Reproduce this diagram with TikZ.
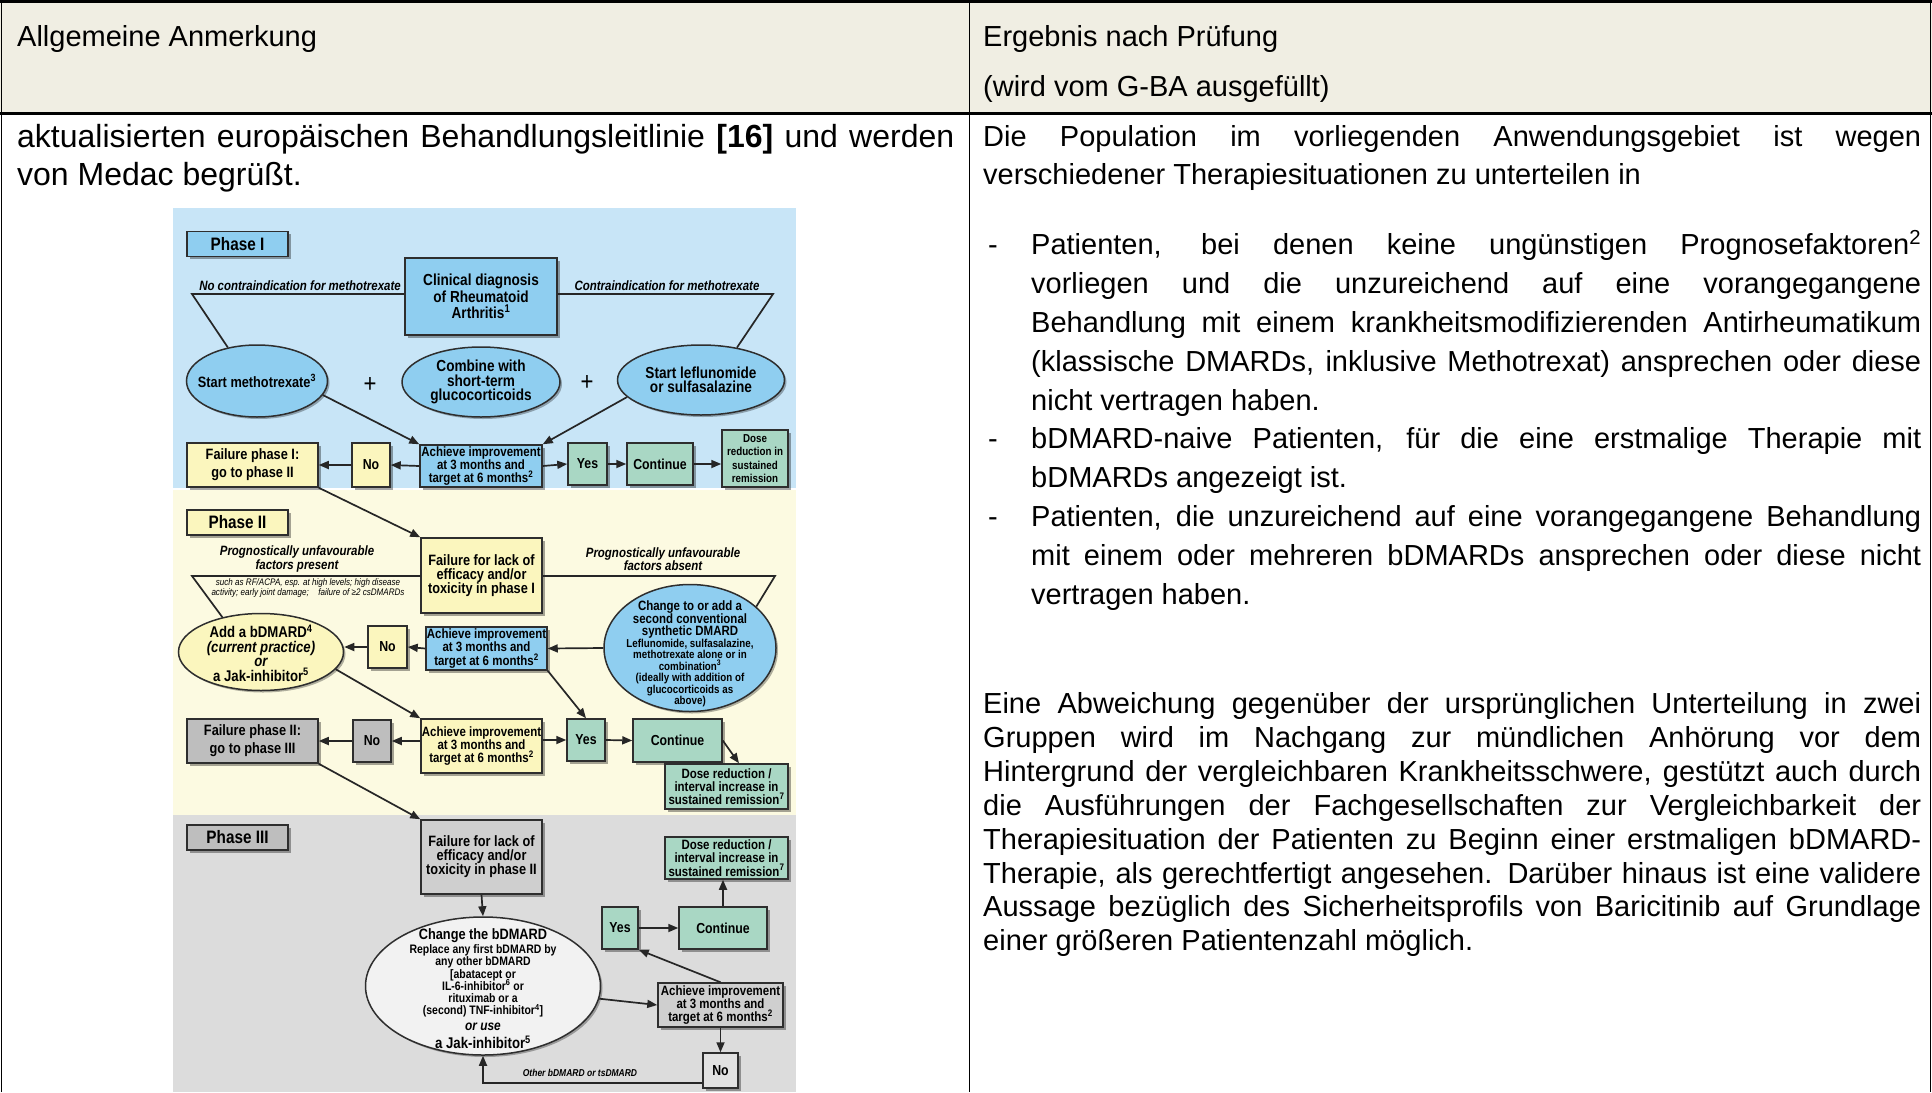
\documentclass[tikz,border=0pt]{standalone}
\usepackage{fontspec}
\setmainfont{Liberation Sans}
\newfontfamily\fcf{Liberation Sans}[FakeStretch=0.85]
\usetikzlibrary{shapes.geometric,arrows.meta,shadows,calc}
\definecolor{hdr}{HTML}{F0EEE3}
\definecolor{bgI}{HTML}{C8E5F7}
\definecolor{bgII}{HTML}{FCFAE1}
\definecolor{bgIII}{HTML}{DCDCDC}
\definecolor{cblue}{HTML}{8FCEF0}
\definecolor{cyel}{HTML}{FBF6BE}
\definecolor{cgrn}{HTML}{A9D7C4}
\definecolor{cgry}{HTML}{BEBEBE}
\definecolor{cgryb}{HTML}{CFCFCF}
\definecolor{cwht}{HTML}{F2F2F2}
\definecolor{cnol}{HTML}{E2E2E2}
\definecolor{edge}{HTML}{2E2E2E}
\newcommand\FS[2]{\fontsize{#1}{#2}\selectfont\lineskiplimit=-50pt\relax}
\newcommand\JL[2]{\makebox[#1][s]{#2}}
\tikzset{
  fb/.style={draw=edge, line width=1.5pt, rectangle, inner sep=0pt, align=center,
    drop shadow={shadow xshift=2.5pt, shadow yshift=-2.5pt, fill=black, opacity=0.35}},
  fe/.style={draw=edge, line width=1.5pt, ellipse, inner sep=0pt,
    drop shadow={shadow xshift=2pt, shadow yshift=-2pt, fill=black, opacity=0.3}},
  ft/.style={inner sep=0pt, align=center},
  arr/.style={line width=1.7pt, draw=black!85, -{Triangle[length=10pt,width=8pt]}},
  lnk/.style={line width=1.7pt, draw=black!85},
  rt/.style={anchor=base west, inner sep=0pt, font=\FS{29}{29}},
  lt/.style={anchor=base west, inner sep=0pt, font=\FS{32}{32}},
  small/.style={font=\fcf\bfseries\FS{14.5}{14.5}},
  ach/.style={font=\fcf\bfseries\FS{13.5}{13.3}},
  ph/.style={font=\fcf\bfseries\FS{18}{18}, minimum width=101pt, minimum height=25pt},
}
\begin{document}
\begin{tikzpicture}[x=1pt,y=-1pt]
\useasboundingbox (0,0) rectangle (1932,1092);
\fill[white] (0,0) rectangle (1932,1092);
\fill[hdr] (0,0) rectangle (1932,113);
% flowchart backgrounds
\fill[bgI] (173,208) rectangle (796,488);
\fill[bgII] (173,490) rectangle (796,815);
\fill[bgIII] (173,815) rectangle (796,1092);
% table rules
\draw[line width=3pt] (0,1.5) -- (1932,1.5);
\draw[line width=3pt] (0,113) -- (1932,113);
\draw[line width=1.5pt] (1.5,0) -- (1.5,1092);
\draw[line width=1.5pt] (969.5,0) -- (969.5,1092);
\draw[line width=1.5pt] (1930.5,0) -- (1930.5,1092);

% header texts
\node[rt] (h1) at (17,46) {Allgemeine Anmerkung};
\node[rt] (h2) at (983,46) {Ergebnis nach Prüfung};
\node[rt] (h3) at (983,96) {(wird vom G-BA ausgefüllt)};

% left body
\node[lt] (l1) at (17,147) {\JL{937pt}{aktualisierten europäischen Behandlungsleitlinie \textbf{[16]} und werden}};
\node[lt] (l2) at (17,185) {von Medac begrüßt.};

% right body
\node[rt] (r1) at (983,146) {\JL{938pt}{Die Population im vorliegenden Anwendungsgebiet ist wegen}};
\node[rt] (r2) at (983,184) {verschiedener Therapiesituationen zu unterteilen in};
\node[rt] (d1) at (988,254) {-};
\node[rt] (b1) at (1031,254) {\JL{890pt}{Patienten, bei denen keine ungünstigen Prognosefaktoren\textsuperscript{2}}};
\node[rt] (b2) at (1031,293) {\JL{890pt}{vorliegen und die unzureichend auf eine vorangegangene}};
\node[rt] (b3) at (1031,332) {\JL{890pt}{Behandlung mit einem krankheitsmodifizierenden Antirheumatikum}};
\node[rt] (b4) at (1031,371) {\JL{890pt}{(klassische DMARDs, inklusive Methotrexat) ansprechen oder diese}};
\node[rt] (b5) at (1031,410) {nicht vertragen haben.};
\node[rt] (d2) at (988,448) {-};
\node[rt] (b6) at (1031,448) {\JL{890pt}{bDMARD-naive Patienten, für die eine erstmalige Therapie mit}};
\node[rt] (b7) at (1031,487) {bDMARDs angezeigt ist.};
\node[rt] (d3) at (988,526) {-};
\node[rt] (b8) at (1031,526) {\JL{890pt}{Patienten, die unzureichend auf eine vorangegangene Behandlung}};
\node[rt] (b9) at (1031,565) {\JL{890pt}{mit einem oder mehreren bDMARDs ansprechen oder diese nicht}};
\node[rt] (b10) at (1031,604) {vertragen haben.};
\node[rt] (p1) at (983,713) {\JL{938pt}{Eine Abweichung gegenüber der ursprünglichen Unterteilung in zwei}};
\node[rt] (p2) at (983,747) {\JL{938pt}{Gruppen wird im Nachgang zur mündlichen Anhörung vor dem}};
\node[rt] (p3) at (983,781) {\JL{938pt}{Hintergrund der vergleichbaren Krankheitsschwere, gestützt auch durch}};
\node[rt] (p4) at (983,815) {\JL{938pt}{die Ausführungen der Fachgesellschaften zur Vergleichbarkeit der}};
\node[rt] (p5) at (983,849) {\JL{938pt}{Therapiesituation der Patienten zu Beginn einer erstmaligen bDMARD-}};
\node[rt] (p6) at (983,883) {\JL{938pt}{Therapie, als gerechtfertigt angesehen. Darüber hinaus ist eine validere}};
\node[rt] (p7) at (983,916) {\JL{938pt}{Aussage bezüglich des Sicherheitsprofils von Baricitinib auf Grundlage}};
\node[rt] (p8) at (983,950) {einer größeren Patientenzahl möglich.};

% ===== Phase I =====
\node[fb, ph, fill=cblue] (ph1) at (237.5,244) {Phase I};
\node[fb, fill=cblue, minimum width=152pt, minimum height=77pt, font=\fcf\bfseries\FS{16}{16.7}] (clin) at (481,296.5) {Clinical diagnosis\\of Rheumatoid\\Arthritis\textsuperscript{1}};
\node[fe, fill=cblue, minimum width=141pt, minimum height=72pt] (smtx) at (257,381) {};
\node[ft, font=\fcf\bfseries\FS{15}{15}] (smtxT) at (smtx) {Start methotrexate\textsuperscript{3}};
\node[fe, fill=cblue, minimum width=158pt, minimum height=70pt] (comb) at (481,382) {};
\node[ft, font=\fcf\bfseries\FS{16}{14.5}] (combT) at (comb) {Combine with\\short-term\\glucocorticoids};
\node[fe, fill=cblue, minimum width=167pt, minimum height=70pt] (slef) at (701,380) {};
\node[ft, font=\fcf\bfseries\FS{16}{14.5}] (slefT) at (slef) {Start leflunomide\\or sulfasalazine};
\node[ft, font=\fcf\FS{26}{26}] (plus1) at (370,385) {+};
\node[ft, font=\fcf\FS{26}{26}] (plus2) at (587,383) {+};
\node[fb, fill=cblue, ach, minimum width=122pt, minimum height=42pt] (ach1) at (481,466) {Achieve improvement\\at 3 months and\\target at 6 months\textsuperscript{2}};
\node[fb, fill=cyel, small, minimum width=38pt, minimum height=44pt] (no1) at (371,465) {No};
\node[fb, fill=cyel, minimum width=131pt, minimum height=44pt, font=\fcf\bfseries\FS{15}{18}] (fail1) at (252.5,465) {Failure phase I:\\go to phase II};
\node[fb, fill=cgrn, small, minimum width=39pt, minimum height=42pt] (yes1) at (587.5,464) {Yes};
\node[fb, fill=cgrn, small, minimum width=66pt, minimum height=42pt] (cont1) at (660,464) {Continue};
\node[fb, fill=cgrn, minimum width=66pt, minimum height=57pt, font=\fcf\bfseries\FS{11.5}{13.5}] (dose1) at (755,458.5) {Dose\\reduction in\\sustained\\remission};
\node[ft, anchor=base, font=\fcf\bfseries\itshape\FS{13.5}{13.5}] (lblNo) at (300,290) {No contraindication for methotrexate};
\node[ft, anchor=base, font=\fcf\bfseries\itshape\FS{13.5}{13.5}] (lblCo) at (667,290) {Contraindication for methotrexate};
\coordinate (cL) at (192,294);
\coordinate (cR) at (773,294);
\draw[lnk] (clin.west |- cL) -- (cL) -- (smtx.131);
\draw[lnk] (clin.east |- cR) -- (cR) -- (slef.42);
\draw[arr] (smtx.-12) -- (ach1.north west);
\draw[arr] (slef.193) -- (ach1.north east);
\draw[arr] (ach1.west) -- (no1.east);
\draw[arr] (no1.west) -- (fail1.east);
\draw[arr] (ach1.east) -- (yes1.west);
\draw[arr] (yes1.east) -- (cont1.west);
\draw[arr] (cont1.east) -- (cont1.east -| dose1.west);

% ===== Phase II =====
\node[fb, ph, fill=cyel] (ph2) at (237.5,522.5) {Phase II};
\node[fb, fill=cyel, minimum width=121pt, minimum height=75pt, font=\fcf\bfseries\FS{15}{14}] (fail2a) at (481.5,575.5) {Failure for lack of\\efficacy and/or\\toxicity in phase I};
\draw[arr] (fail1.south east) -- (fail2a.north west);
\node[ft, font=\fcf\bfseries\itshape\FS{13.5}{13.3}] (lblP) at (297,559) {Prognostically unfavourable\\factors present};
\node[ft, font=\fcf\itshape\FS{9.5}{10.5}] (lblS) at (308,588) {such as RF/ACPA, esp. at high levels; high disease\\activity; early joint damage;\quad failure of ≥2 csDMARDs};
\node[ft, font=\fcf\bfseries\itshape\FS{13.5}{13.3}] (lblA) at (663,559) {Prognostically unfavourable\\factors absent};
\coordinate (pL) at (192,576);
\coordinate (pR) at (775,576);
\node[fe, fill=cyel, minimum width=165pt, minimum height=77pt] (add) at (261,652) {};
\node[ft, font=\fcf\bfseries\FS{15.5}{14.5}] (addT) at (261,653) {Add a bDMARD\textsuperscript{4}\\{\itshape (current practice)}\\{\itshape or}\\a Jak-inhibitor\textsuperscript{5}};
\node[fe, fill=cblue, minimum width=172pt, minimum height=127pt] (chg) at (690,648) {};
\node[ft, font=\fcf\bfseries\FS{13.5}{12.5}] (chgT1) at (690,620) {Change to or add a\\second conventional\\synthetic DMARD};
\node[ft, font=\fcf\bfseries\FS{11.5}{11.5}] (chgT2) at (690,673) {Leflunomide, sulfasalazine,\\methotrexate alone or in\\combination\textsuperscript{3}\\(ideally with addition of\\glucocorticoids as\\above)};
\draw[lnk] (fail2a.west |- pL) -- (pL) -- (add.138);
\draw[lnk] (fail2a.east |- pR) -- (pR) -- (chg.32);
\node[fb, fill=cblue, ach, minimum width=121pt, minimum height=43pt] (ach2a) at (486.5,648.5) {Achieve improvement\\at 3 months and\\target at 6 months\textsuperscript{2}};
\node[fb, fill=cyel, small, minimum width=39pt, minimum height=42pt] (no2a) at (387.5,647) {No};
\draw[arr] (chg.west) -- (ach2a.east);
\draw[arr] (ach2a.west) -- (no2a.east);
\draw[arr] (no2a.west) -- (add.east |- no2a.west);
\node[fb, fill=cgrn, small, minimum width=38pt, minimum height=42pt] (yes2) at (586,740) {Yes};
\draw[arr] (ach2a.south east) -- (yes2.north);
\node[fb, fill=cyel, ach, minimum width=121pt, minimum height=54pt] (ach2b) at (481.5,746) {Achieve improvement\\at 3 months and\\target at 6 months\textsuperscript{2}};
\draw[arr] (add.-13) -- (ach2b.north west);
\node[fb, fill=cgry, small, minimum width=38pt, minimum height=42pt] (no2b) at (372,741) {No};
\node[fb, fill=cgry, minimum width=131pt, minimum height=44pt, font=\fcf\bfseries\FS{15}{18}] (fail2b) at (252.5,741) {Failure phase II:\\go to phase III};
\draw[arr] (ach2b.west |- no2b.east) -- (no2b.east);
\draw[arr] (no2b.west) -- (fail2b.east);
\draw[arr] (ach2b.east |- yes2.west) -- (yes2.west);
\node[fb, fill=cgrn, small, minimum width=89pt, minimum height=43pt] (cont2) at (677.5,740.5) {Continue};
\draw[arr] (yes2.east) -- (cont2.west);
\node[fb, fill=cgrn, ach, minimum width=123pt, minimum height=45pt] (dose2) at (726.5,786.5) {Dose reduction /\\interval increase in\\sustained remission\textsuperscript{7}};
\draw[arr] (cont2.east) -- ($(dose2.north west)!0.6!(dose2.north east)$);

% ===== Phase III =====
\node[fb, ph, fill=cgry] (ph3) at (237.5,837.5) {Phase III};
\node[fb, fill=cgryb, minimum width=121pt, minimum height=74pt, font=\fcf\bfseries\FS{15}{14}] (fail3) at (481.5,857) {Failure for lack of\\efficacy and/or\\toxicity in phase II};
\draw[arr] (fail2b.south east) -- (fail3.north west);
\node[fe, fill=cwht, minimum width=235pt, minimum height=138pt] (chgb) at (483,986) {};
\node[ft, font=\fcf\bfseries\FS{15}{15}] (chgbT1) at (483,936) {Change the bDMARD};
\node[ft, font=\fcf\bfseries\FS{12.3}{12.2}] (chgbT2) at (483,981) {Replace any first bDMARD by\\any other bDMARD\\{[}abatacept or\\IL-6-inhibitor\textsuperscript{6} or\\rituximab or a\\(second) TNF-inhibitor\textsuperscript{4}{]}};
\node[ft, font=\fcf\bfseries\itshape\FS{14}{14}] (chgbT3) at (483,1027) {or use};
\node[ft, font=\fcf\bfseries\FS{15.5}{15.5}] (chgbT4) at (483,1042) {a Jak-inhibitor\textsuperscript{5}};
\draw[arr] (fail3.south) -- (chgb.north);
\node[fb, fill=cgrn, small, minimum width=36pt, minimum height=42pt] (yes3) at (620,928) {Yes};
\node[fb, fill=cgrn, small, minimum width=88pt, minimum height=42pt] (cont3) at (723,928) {Continue};
\node[fb, fill=cgrn, ach, minimum width=123pt, minimum height=42pt] (dose3) at (726.5,858) {Dose reduction /\\interval increase in\\sustained remission\textsuperscript{7}};
\node[fb, fill=cgryb, ach, minimum width=125pt, minimum height=44pt] (ach3) at (720.5,1005) {Achieve improvement\\at 3 months and\\target at 6 months\textsuperscript{2}};
\node[fb, fill=cnol, small, minimum width=35pt, minimum height=35pt] (no3) at (720.5,1070.5) {No};
\draw[arr] (chgb) -- (ach3.west);
\draw[arr] (ach3.north) -- (yes3.south east);
\draw[arr] (yes3.east) -- (cont3.west);
\draw[arr] (cont3.north) -- (cont3.north |- dose3.south);
\draw[arr] (ach3.south) -- (no3.north);
\coordinate (nb) at ($(no3.south west)+(0,-6)$);
\draw[arr] (nb) -| (chgb.south);
\node[ft, font=\fcf\bfseries\itshape\FS{10}{10}] (lblO) at (580,1073) {Other bDMARD or tsDMARD};
\end{tikzpicture}
\end{document}
